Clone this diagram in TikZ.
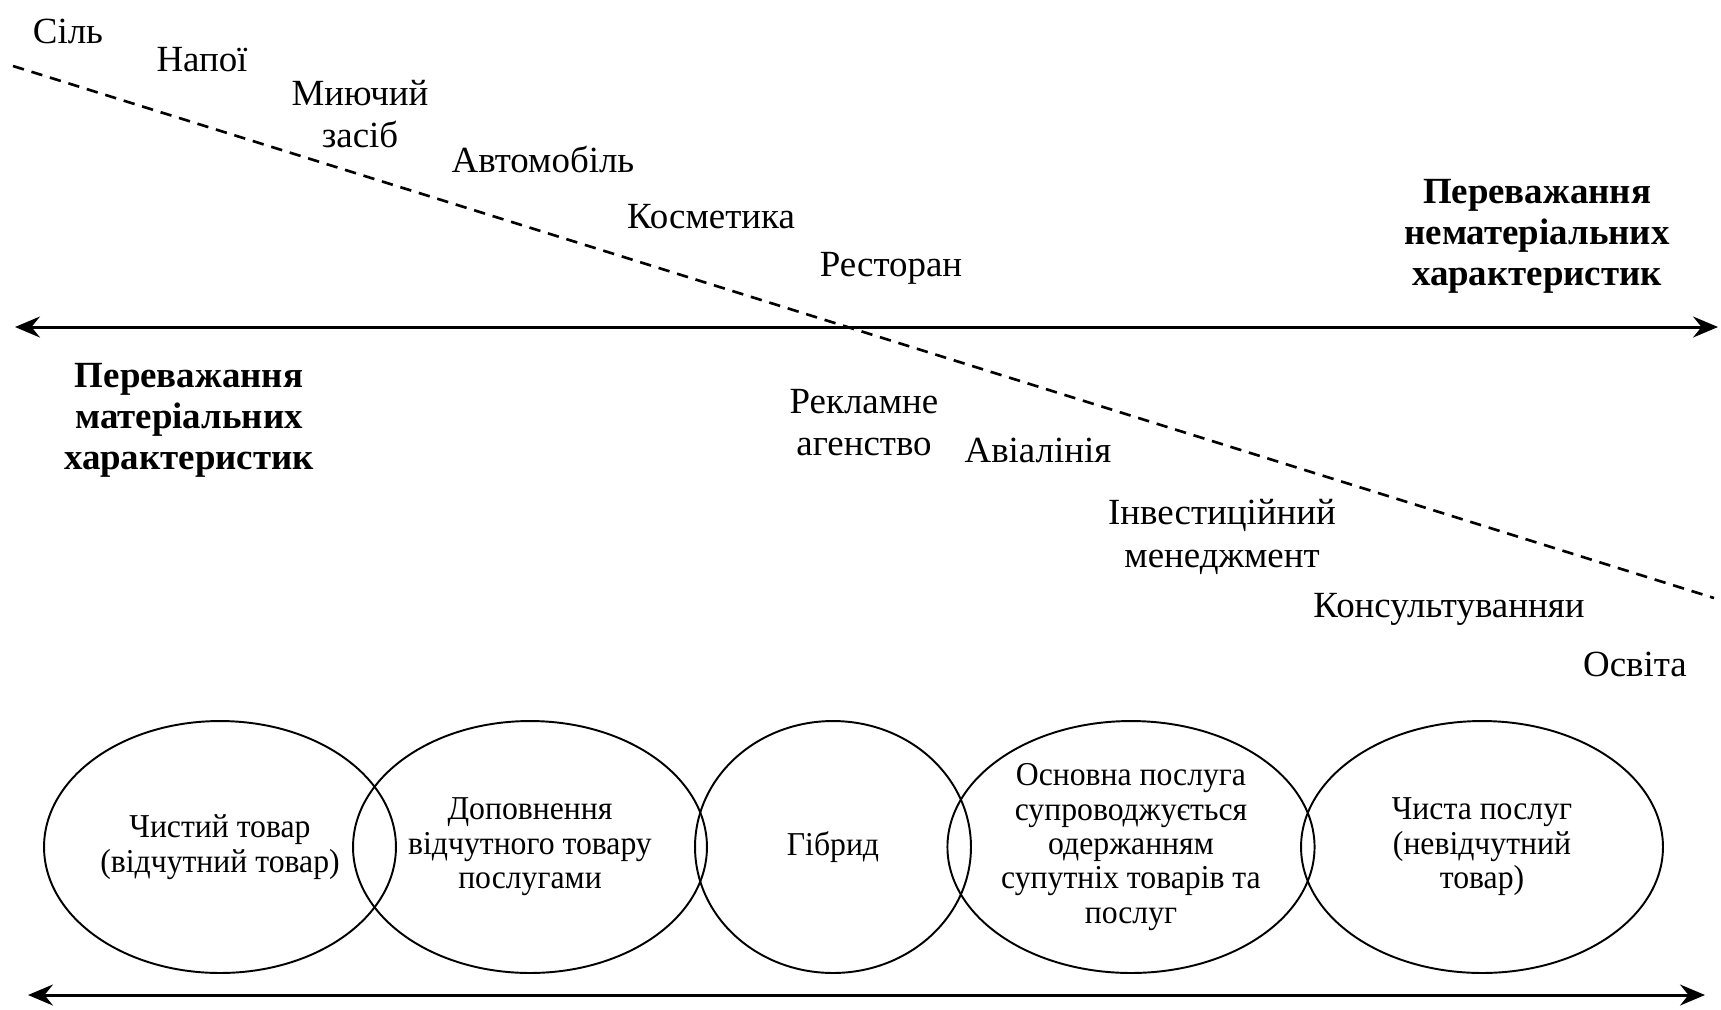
\documentclass[tikz,border=0pt]{standalone}
\usepackage{fontspec}
\setmainfont{Liberation Serif}
\newfontfamily\narrowfont[FakeStretch=0.95]{Liberation Serif}
\usetikzlibrary{arrows.meta,shapes.geometric}
\begin{document}
\begin{tikzpicture}[x=0.02cm,y=-0.02cm,
  lbl/.style={font=\fontsize{21}{24}\selectfont, inner sep=0pt, align=center},
  head/.style={font=\fontsize{21}{23.3}\selectfont\bfseries, inner sep=0pt, align=center},
  oval/.style={ellipse, draw, line width=1.1pt, inner sep=0pt, minimum height=5.04cm,
    align=center, font=\narrowfont\fontsize{19}{19.6}\selectfont},
  axis/.style={line width=1.7pt,
    {Stealth[length=0.5cm,width=0.42cm,inset=0.17cm]}-{Stealth[length=0.5cm,width=0.42cm,inset=0.17cm]}},
  divide/.style={dash pattern=on 6.5pt off 4.5pt, line width=1.5pt}]
\useasboundingbox (0,0) rectangle (1721,1009);

% dividing line between goods and services
\coordinate (dA) at (13,66);
\coordinate (dB) at (1714,598);
\draw[divide] (dA) -- (dB);

% middle scale
\coordinate (mL) at (15,327);
\coordinate (mR) at (1718,327);
\draw[axis] (mL) -- (mR);

% bottom scale
\coordinate (bL) at (28,995);
\coordinate (bR) at (1705,995);
\draw[axis] (bL) -- (bR);

% examples above the dividing line
\node[lbl] (sil)   at (68,31)  {Сіль};
\node[lbl] (napoi) at (202,60) {Напої};
\node[lbl] (myuch) at (360,114) {Миючий\\засіб};
\node[lbl] (avto)  at (543,159) {Автомобіль};
\node[lbl] (kosm)  at (711,217) {Косметика};
\node[lbl] (rest)  at (891,268) {Ресторан};

% examples below the dividing line
\node[lbl] (rekl)  at (864,423) {Рекламне\\агенство};
\node[lbl] (avia)  at (1038,450) {Авіалінія};
\node[lbl] (invest) at (1222,537) {Інвестиційний\\менеджмент};
\node[lbl] (kons)  at (1449,609) {Консультуванняи};
\node[lbl] (osv)   at (1635,664) {Освіта};

% headings
\node[head] (nonmat) at (1537,236) {Переважання\\нематеріальних\\характеристик};
\node[head] (mat)    at (189,420)  {Переважання\\матеріальних\\характеристик};

% goods-services continuum
\node[oval, minimum width=7.04cm] (e1) at (220,847) {Чистий товар\\(відчутний товар)};
\node[oval, minimum width=7.08cm] (e2) at (530,847) {Доповнення\\відчутного товару\\послугами};
\node[oval, minimum width=5.52cm] (e3) at (833,847) {Гібрид};
\node[oval, minimum width=6.84cm] (e4) at (1131,847) {Основна послуга\\супроводжується\\одержанням\\супутніх товарів та\\послуг};
\node[oval, minimum width=7.24cm] (e5) at (1482,847) {Чиста послуг\\(невідчутний\\товар)};
\end{tikzpicture}
\end{document}
